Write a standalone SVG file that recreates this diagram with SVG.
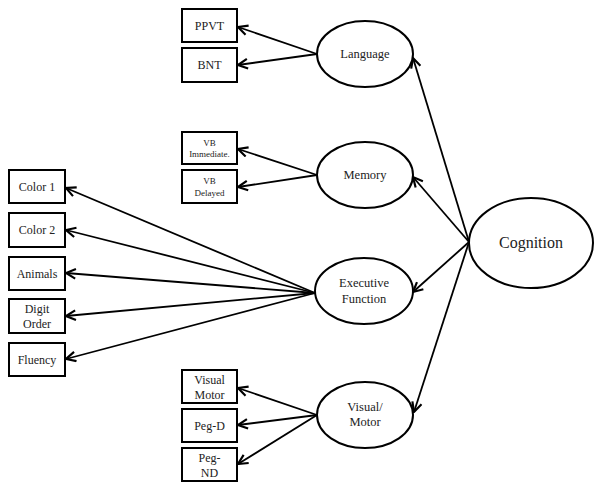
<svg xmlns="http://www.w3.org/2000/svg" width="602" height="491" viewBox="0 0 602 491" font-family="Liberation Serif, DejaVu Serif, serif">
<style>
rect{fill:#fff;stroke:#000;stroke-width:2}
ellipse{fill:#fff;stroke:#000;stroke-width:2}
text{fill:#222;text-anchor:middle}
.b{font-size:12px}
.s{font-size:9px}
.e{font-size:12.5px}
.c{font-size:16px}
#edges line{stroke:#000;stroke-width:1.8;marker-end:url(#ah)}
</style>
<defs>
<marker id="ah" markerUnits="userSpaceOnUse" markerWidth="12" markerHeight="12" refX="9" refY="5" orient="auto" viewBox="0 0 10 10">
<path d="M1,1 L9,5 L1,9" fill="none" stroke="#000" stroke-width="1.8"/>
</marker>
</defs>
<g id="edges">
<line x1="317" y1="54" x2="238" y2="27"/>
<line x1="317" y1="54" x2="238" y2="65"/>
<line x1="317" y1="175" x2="238" y2="149"/>
<line x1="317" y1="175" x2="238" y2="187"/>
<line x1="315" y1="293" x2="66" y2="188"/>
<line x1="315" y1="293" x2="66" y2="230"/>
<line x1="315" y1="293" x2="66" y2="273"/>
<line x1="315" y1="293" x2="66" y2="316"/>
<line x1="315" y1="293" x2="66" y2="359"/>
<line x1="317" y1="415" x2="238" y2="388"/>
<line x1="317" y1="415" x2="238" y2="425"/>
<line x1="317" y1="415" x2="238" y2="464"/>
<line x1="469" y1="242" x2="413" y2="58"/>
<line x1="469" y1="242" x2="413" y2="177"/>
<line x1="469" y1="242" x2="413" y2="292"/>
<line x1="469" y1="242" x2="414" y2="412"/>
</g>
<g id="ppvt"><rect x="182" y="9" width="55" height="33"/><text class="b" x="209.5" y="30">PPVT</text></g>
<g id="bnt"><rect x="182" y="48" width="55" height="34"/><text class="b" x="209.5" y="69">BNT</text></g>
<g id="vbi"><rect x="182" y="132" width="55" height="32"/><text class="s" x="209.5" y="146">VB</text><text class="s" x="209.5" y="157">Immediate.</text></g>
<g id="vbd"><rect x="182" y="170" width="55" height="33"/><text class="s" x="209.5" y="184">VB</text><text class="s" x="209.5" y="196">Delayed</text></g>
<g id="color1"><rect x="9" y="170" width="56" height="33"/><text class="b" x="37" y="191">Color 1</text></g>
<g id="color2"><rect x="9" y="213" width="56" height="34"/><text class="b" x="37" y="234">Color 2</text></g>
<g id="animals"><rect x="9" y="257" width="56" height="33"/><text class="b" x="37" y="278">Animals</text></g>
<g id="digit"><rect x="9" y="299" width="56" height="34"/><text class="b" x="37" y="313">Digit</text><text class="b" x="37" y="328">Order</text></g>
<g id="fluency"><rect x="9" y="343" width="56" height="33"/><text class="b" x="37" y="364">Fluency</text></g>
<g id="vm"><rect x="182" y="370" width="55" height="33"/><text class="b" x="209.5" y="384">Visual</text><text class="b" x="209.5" y="399">Motor</text></g>
<g id="pegd"><rect x="182" y="409" width="55" height="33"/><text class="b" x="209.5" y="430">Peg-D</text></g>
<g id="pegnd"><rect x="182" y="448" width="55" height="33"/><text class="b" x="209.5" y="462">Peg-</text><text class="b" x="209.5" y="477">ND</text></g>
<g id="language"><ellipse cx="365" cy="54" rx="48" ry="33"/><text class="e" x="365" y="58">Language</text></g>
<g id="memory"><ellipse cx="365" cy="175" rx="48" ry="33"/><text class="e" x="365" y="179">Memory</text></g>
<g id="exec"><ellipse cx="364" cy="291" rx="49" ry="33"/><text class="e" x="364" y="287">Executive</text><text class="e" x="364" y="303">Function</text></g>
<g id="visual"><ellipse cx="365" cy="415" rx="48" ry="33"/><text class="e" x="365" y="411">Visual/</text><text class="e" x="365" y="426">Motor</text></g>
<g id="cognition"><ellipse cx="531" cy="243" rx="62" ry="45"/><text class="c" x="531" y="248">Cognition</text></g>
</svg>
